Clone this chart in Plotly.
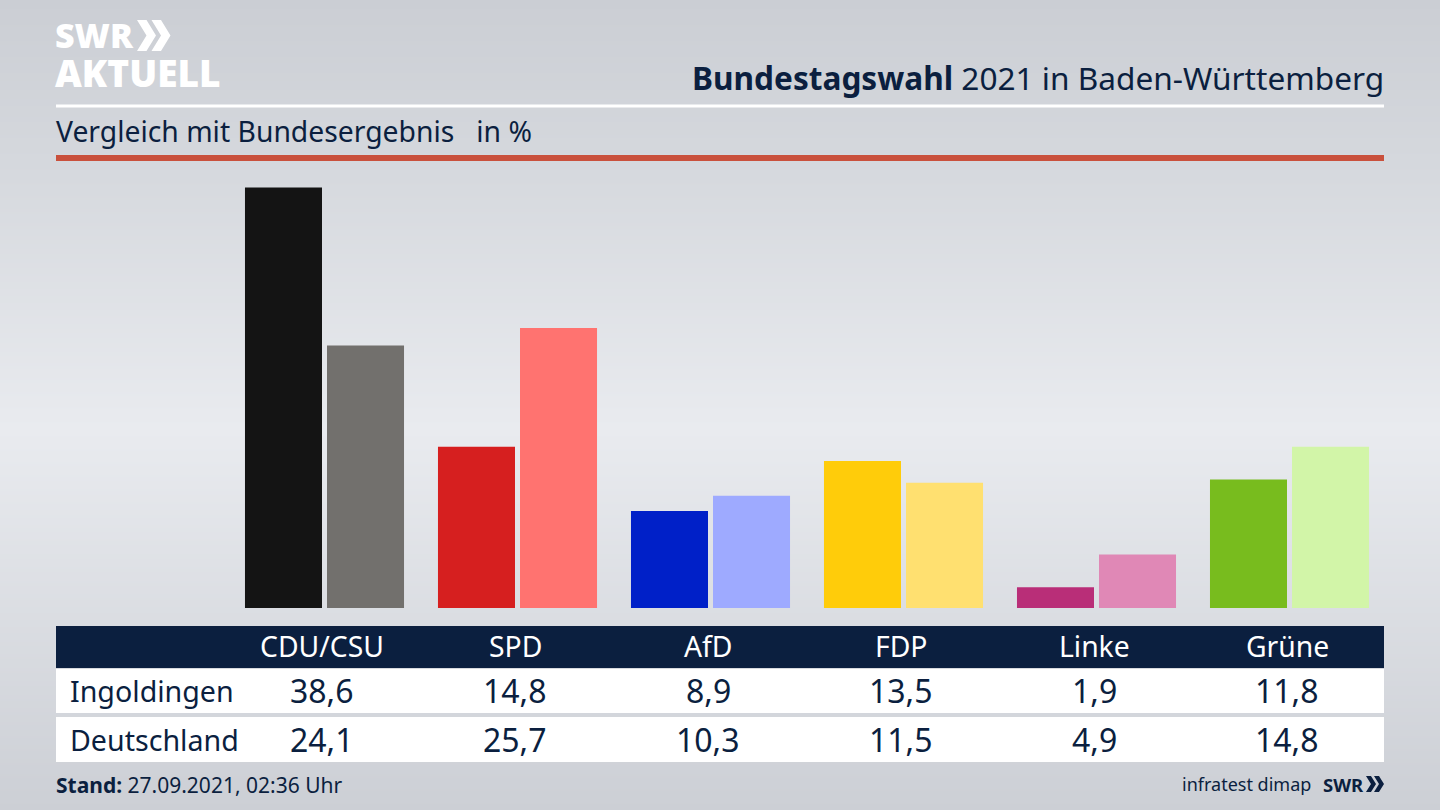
import plotly.graph_objects as go

parties = ["CDU/CSU", "SPD", "AfD", "FDP", "Linke", "Grüne"]
ingoldingen = [38.6, 14.8, 8.9, 13.5, 1.9, 11.8]
deutschland = [24.1, 25.7, 10.3, 11.5, 4.9, 14.8]
colors_local = ["#141414", "#d61f1f", "#0020c8", "#ffcc0a", "#b92e78", "#78bc1e"]
colors_national = ["#72706d", "#ff7370", "#9eaaff", "#ffe070", "#e088b6", "#d2f5a8"]
row_names = ["Ingoldingen", "Deutschland"]

W, H = 1440, 810
NAVY = "#0b1f3f"
FONT = "Noto Sans"


def px(x):
    return x / W


def py(y):
    return 1 - y / H


def fmt(v):
    return f"{v:.1f}".replace(".", ",")


fig = go.Figure()

# background gradient (top grey, light band, bottom grey)
bg_y = [0, 0.2, 0.53, 1]
bg_scale = [[0, "#cbced4"], [0.2, "#d5d8dd"], [0.53, "#e9ebef"], [1, "#cccfd5"]]
fig.add_trace(go.Heatmap(
    x=[0, 1], y=bg_y,
    z=[[v, v] for v in bg_y],
    colorscale=bg_scale, zmin=0, zmax=1, showscale=False,
    zsmooth="best", hoverinfo="skip", xaxis="x", yaxis="y",
))

for name, vals, cols in [(row_names[0], ingoldingen, colors_local),
                         (row_names[1], deutschland, colors_national)]:
    fig.add_trace(go.Bar(
        x=parties, y=vals, name=name, marker=dict(color=cols, line_width=0),
        xaxis="x2", yaxis="y2",
        hovertemplate="%{x}: %{y:.1f}<extra>" + name + "</extra>",
    ))

shapes = []


def rect(x0, y0, x1, y1, color):
    shapes.append(dict(type="rect", xref="paper", yref="paper", layer="above",
                       x0=px(x0), x1=px(x1), y0=py(y0), y1=py(y1),
                       fillcolor=color, line_width=0))


rect(56, 104.5, 1384, 107.5, "#ffffff")
rect(56, 155, 1384, 161, "#c9503c")
rect(56, 626, 1384, 668, NAVY)
rect(56, 669, 1384, 713, "#ffffff")
rect(56, 717, 1384, 762, "#ffffff")


def chevrons(x, y, h, w, gap, color):
    for k in range(2):
        x0 = x + k * gap
        pts = [(x0, y), (x0 + w * 0.5, y), (x0 + w, y + h / 2),
               (x0 + w * 0.5, y + h), (x0, y + h), (x0 + w * 0.5, y + h / 2)]
        path = "M " + " L ".join(f"{px(a):.5f},{py(b):.5f}" for a, b in pts) + " Z"
        shapes.append(dict(type="path", xref="paper", yref="paper", layer="above",
                           path=path, fillcolor=color, line_width=0))


chevrons(137, 20, 31, 19, 14.5, "#ffffff")
chevrons(1366, 776, 16, 10, 8, NAVY)

ann = []


def text(x, y, s, size, color=NAVY, anchor="left", weight="normal"):
    ann.append(dict(xref="paper", yref="paper", x=px(x), y=py(y), text=s,
                    showarrow=False, xanchor=anchor, yanchor="middle",
                    font=dict(family=FONT, size=size, color=color, weight=weight),
                    borderpad=0, borderwidth=0))


text(55, 35, "SWR", 34, "#ffffff", weight=900)
text(55, 72, "AKTUELL", 37, "#ffffff", weight=900)
text(1384, 77, "<b>Bundestagswahl</b> 2021 in Baden-Württemberg", 31.6, anchor="right")
text(56, 131.5, "Vergleich mit Bundesergebnis   in %", 28.3)
text(56, 785, "<b>Stand:</b> 27.09.2021, 02:36 Uhr", 21)
text(1311, 784, "infratest dimap", 18, anchor="right")
text(1323, 784, "<b>SWR</b>", 18.5)

for i, p in enumerate(parties):
    cx = 322 + 193 * i
    text(cx, 646, p, 28.3, "#ffffff", "center")
    text(cx, 690.5, fmt(ingoldingen[i]), 32, NAVY, "center")
    text(cx, 739, fmt(deutschland[i]), 32, NAVY, "center")
text(70, 690, row_names[0], 28.6)
text(70, 739, row_names[1], 28.6)

TOP, BASE = 160, 608
UNIT = 420.5 / 38.6

fig.update_layout(
    width=W, height=H, margin=dict(l=0, r=0, t=0, b=0),
    paper_bgcolor="#dfe1e6", plot_bgcolor="rgba(0,0,0,0)",
    showlegend=False, barmode="group", bargap=0.15, bargroupgap=0.061,
    xaxis=dict(domain=[0, 1], range=[0, 1], visible=False, fixedrange=True),
    yaxis=dict(domain=[0, 1], range=[1, 0], visible=False, fixedrange=True),
    xaxis2=dict(domain=[px(228), px(1386)], anchor="y2", visible=False,
                categoryorder="array", categoryarray=parties),
    yaxis2=dict(domain=[py(BASE), py(TOP)], anchor="x2", visible=False,
                range=[0, (BASE - TOP) / UNIT]),
    shapes=shapes, annotations=ann,
    font=dict(family=FONT, color=NAVY),
)

fig.write_html("out.html", config={"displayModeBar": False},
               post_script="document.documentElement.style.margin='0';document.body.style.margin='0';document.body.style.overflow='hidden';")
